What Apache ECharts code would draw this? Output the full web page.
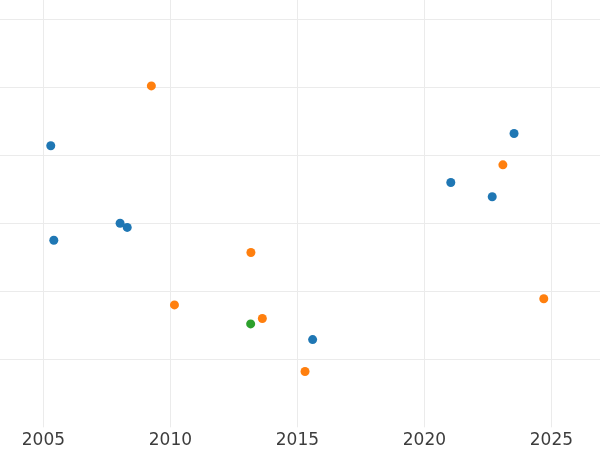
<!DOCTYPE html>
<html>
<head>
<meta charset="utf-8">
<script src="https://cdn.jsdelivr.net/npm/echarts@6/dist/echarts.min.js"></script>
<style>html,body{margin:0;padding:0;background:#fff;}#c{width:600px;height:450px;}</style>
</head>
<body>
<div id="c"></div>
<script>
const xTicks = [2000, 2005, 2010, 2015, 2020, 2025, 2030];
const blueX = [2005.29, 2005.41, 2008.02, 2008.30, 2015.60, 2021.04, 2022.67, 2023.53];
const blueY = [4.14, 2.75, 3.00, 2.94, 1.29, 3.60, 3.39, 4.32];
const orangeX = [2009.25, 2010.16, 2013.17, 2013.62, 2015.30, 2023.09, 2024.70];
const orangeY = [5.02, 1.80, 2.57, 1.60, 0.82, 3.86, 1.89];
const greenX = [2013.16];
const greenY = [1.52];

function pairs(xs, ys) { return xs.map((x, i) => [x, ys[i]]); }

const chart = echarts.init(document.getElementById('c'));
chart.setOption({
  animation: false,
  backgroundColor: '#fff',
  grid: { left: -83.6, right: -78.4, top: -48.7, bottom: 22.7, containLabel: false, outerBoundsMode: 'none' },
  xAxis: {
    type: 'value', min: xTicks[0], max: xTicks[xTicks.length - 1], interval: 5,
    axisLine: { show: false }, axisTick: { show: false },
    axisLabel: { color: '#3d3d3d', fontSize: 17, fontFamily: 'DejaVu Sans', margin: 5, formatter: v => String(v) },
    splitLine: { show: true, lineStyle: { color: '#ebebeb', width: 1 } }
  },
  yAxis: {
    type: 'value', min: 0, max: 7, interval: 1,
    axisLine: { show: false }, axisTick: { show: false }, axisLabel: { show: false },
    splitLine: { show: true, lineStyle: { color: ['rgba(0,0,0,0)', '#ebebeb', '#ebebeb', '#ebebeb', '#ebebeb', '#ebebeb', '#ebebeb', '#ebebeb'], width: 1 } }
  },
  series: [
    { type: 'scatter', data: pairs(blueX, blueY), symbolSize: 9, itemStyle: { color: '#1f77b4', opacity: 1 } },
    { type: 'scatter', data: pairs(orangeX, orangeY), symbolSize: 9, itemStyle: { color: '#ff7f0e', opacity: 1 } },
    { type: 'scatter', data: pairs(greenX, greenY), symbolSize: 9, itemStyle: { color: '#2ca02c', opacity: 1 } }
  ]
});
</script>
</body>
</html>
